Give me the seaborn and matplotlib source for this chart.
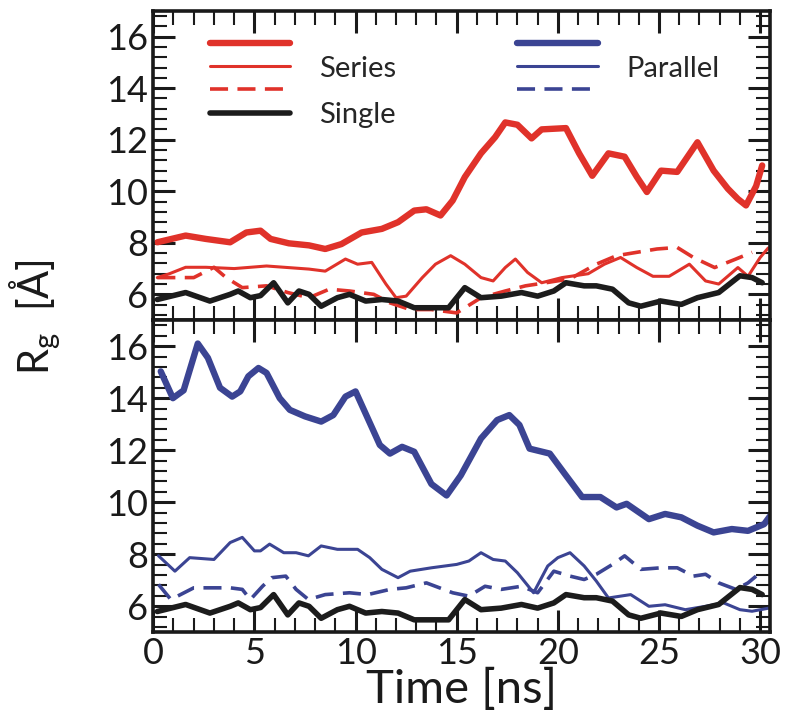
import matplotlib
matplotlib.use("Agg")
import matplotlib.pyplot as plt
from matplotlib.ticker import MultipleLocator
from matplotlib.lines import Line2D
import seaborn as sns
import pandas as pd

# ---------------- data ----------------
t_ser_thick = [0.2, 1.6, 2.6, 3.8, 4.6, 5.3, 5.8, 6.7, 7.7, 8.5, 9.3, 10.3, 11.3, 12.1, 12.9, 13.5,
               14.2, 14.8, 15.4, 16.2, 16.9, 17.4, 18.0, 18.7, 19.2, 20.4, 21.05, 21.7, 22.5, 23.3,
               23.9, 24.4, 25.1, 25.9, 26.9, 27.7, 28.4, 28.9, 29.3, 29.8, 30.1]
rg_ser_thick = [8.02, 8.28, 8.15, 8.02, 8.4, 8.47, 8.15, 7.98, 7.9, 7.76, 7.95, 8.4, 8.54, 8.8, 9.25, 9.3,
                9.06, 9.64, 10.55, 11.47, 12.1, 12.67, 12.58, 12.05, 12.4, 12.45, 11.47, 10.6, 11.47, 11.34,
                10.56, 9.97, 10.8, 10.75, 11.9, 10.8, 10.1, 9.7, 9.45, 10.2, 11.0]

t_ser_thin = [0.2, 0.8, 1.6, 2.6, 4.0, 5.6, 7.7, 8.5, 9.5, 10.1, 10.8, 11.5, 12.0, 12.5, 13.3, 13.95,
              14.7, 15.4, 16.2, 16.8, 17.4, 17.9, 18.5, 19.2, 20.2, 21.5, 22.3, 23.1, 23.9, 24.7, 25.5,
              26.5, 27.3, 27.95, 28.9, 29.4, 30.0, 30.4]
rg_ser_thin = [6.65, 6.8, 7.05, 7.05, 7.0, 7.1, 6.98, 6.9, 7.37, 7.17, 7.24, 6.4, 5.87, 5.93, 6.65, 7.17,
               7.5, 7.17, 6.65, 6.52, 7.04, 7.37, 6.85, 6.45, 6.65, 6.8, 7.17, 7.43, 7.04, 6.7, 6.7,
               7.17, 6.52, 6.4, 7.04, 6.7, 7.43, 7.8]

t_ser_dash = [0.2, 2.0, 3.0, 3.6, 4.4, 5.6, 6.65, 7.7, 8.7, 9.7, 10.9, 11.7, 12.7, 13.75, 15.0, 16.2,
              17.4, 18.4, 19.4, 20.6, 21.9, 22.9, 23.9, 24.9, 25.9, 26.7, 27.75, 28.8, 29.6]
rg_ser_dash = [6.65, 6.65, 7.05, 6.65, 6.26, 6.33, 6.07, 5.87, 6.2, 6.13, 6.0, 5.67, 5.41, 5.41, 5.28, 5.87,
               6.13, 6.33, 6.45, 6.6, 7.17, 7.5, 7.63, 7.76, 7.82, 7.43, 7.04, 7.37, 7.63]

t_single = [0.2, 1.6, 2.8, 3.8, 4.2, 4.8, 5.3, 5.95, 6.65, 7.2, 7.7, 8.3, 9.1, 9.7, 10.5, 11.3, 12.1,
            12.9, 13.75, 14.6, 15.4, 16.2, 17.2, 18.2, 19.0, 19.8, 20.4, 21.3, 21.9, 22.7, 23.5, 24.1,
            25.1, 26.1, 26.9, 27.95, 29.0, 29.6, 30.1]
rg_single = [5.8, 6.07, 5.74, 6.0, 6.13, 5.87, 5.95, 6.45, 5.67, 6.13, 6.0, 5.54, 5.87, 6.0, 5.74, 5.8, 5.74,
             5.48, 5.48, 5.48, 6.26, 5.87, 5.93, 6.07, 5.93, 6.13, 6.45, 6.33, 6.33, 6.2, 5.67, 5.54,
             5.74, 5.61, 5.87, 6.07, 6.72, 6.65, 6.45]

t_par_thick = [0.37, 0.97, 1.5, 2.2, 2.7, 3.3, 3.9, 4.3, 4.7, 5.2, 5.6, 6.25, 6.75, 7.5, 8.3, 8.9, 9.5,
               10.0, 10.6, 11.2, 11.7, 12.3, 12.9, 13.75, 14.5, 15.2, 16.2, 17.0, 17.6, 18.1, 18.6, 19.6,
               20.4, 21.2, 22.1, 22.9, 23.4, 24.5, 25.3, 26.1, 26.9, 27.7, 28.6, 29.4, 30.2, 30.5]
rg_par_thick = [15.03, 14.0, 14.3, 16.1, 15.55, 14.4, 14.06, 14.26, 14.84, 15.16, 14.97, 14.0, 13.55, 13.3,
                13.1, 13.35, 14.06, 14.26, 13.23, 12.2, 11.87, 12.13, 11.94, 10.7, 10.26, 11.03, 12.45,
                13.16, 13.35, 12.97, 12.06, 11.87, 11.03, 10.2, 10.2, 9.8, 9.94, 9.35, 9.55, 9.42, 9.1,
                8.84, 8.97, 8.9, 9.16, 9.48]

t_par_thin = [0.26, 1.07, 1.8, 3.0, 3.8, 4.4, 5.0, 5.3, 5.75, 6.45, 7.06, 7.67, 8.3, 9.1, 10.1, 10.7,
              11.3, 12.1, 12.7, 13.75, 15.0, 15.6, 16.2, 16.8, 17.4, 18.0, 18.8, 19.5, 20.0, 20.6, 21.3,
              21.9, 22.5, 23.6, 24.5, 25.3, 26.3, 27.3, 28.2, 29.0, 29.6, 30.5]
rg_par_thin = [7.94, 7.35, 7.87, 7.8, 8.45, 8.65, 8.13, 8.13, 8.39, 8.06, 8.06, 7.94, 8.32, 8.19, 8.19, 7.87,
               7.42, 7.1, 7.35, 7.48, 7.61, 7.74, 8.06, 7.8, 7.74, 7.29, 6.52, 7.55, 7.87, 8.06, 7.55,
               6.97, 6.32, 6.45, 6.0, 6.06, 5.87, 6.0, 6.13, 5.87, 5.81, 5.94]

t_par_dash = [0.26, 0.87, 2.0, 2.6, 3.8, 4.4, 4.8, 5.4, 5.85, 6.55, 7.06, 7.67, 8.5, 9.7, 10.6, 11.7,
              12.5, 13.5, 14.8, 15.6, 16.4, 17.2, 18.2, 19.0, 19.8, 20.6, 21.3, 21.9, 22.7, 23.3, 24.1,
              25.1, 25.9, 26.7, 27.3, 27.95, 28.8, 29.4, 29.8]
rg_par_dash = [6.84, 6.26, 6.71, 6.71, 6.71, 6.65, 6.26, 6.77, 7.1, 7.16, 6.65, 6.26, 6.45, 6.52, 6.45, 6.65,
               6.71, 6.9, 6.52, 6.39, 6.77, 6.65, 6.77, 6.52, 7.35, 7.16, 7.03, 7.23, 7.61, 7.94, 7.42,
               7.48, 7.48, 7.16, 7.23, 6.9, 6.65, 6.9, 7.16]

x_ticks = [0, 5, 10, 15, 20, 25, 30]
y_ticks = [6, 8, 10, 12, 14, 16]

RED = "#e0322a"
BLUE = "#3b4493"
BLACK = "#1c1c1c"
LW_THICK, LW_THIN, LW_DASH, LW_BLACK = 4.6, 2.2, 2.6, 4.0
DASH = (0, (5.0, 2.6))

# ---------------- style ----------------
sns.set_style("ticks")
plt.rcParams["font.family"] = ["Lato", "DejaVu Sans"]
plt.rcParams["mathtext.fontset"] = "custom"
plt.rcParams["mathtext.rm"] = "Lato"
plt.rcParams["mathtext.it"] = "Lato"

fig = plt.figure(figsize=(7.86, 7.21), dpi=100)
ax1 = fig.add_axes([0.195, 0.556, 0.785, 0.429])
ax2 = fig.add_axes([0.195, 0.123, 0.785, 0.433])


def draw(ax, t, v, color, lw, ls="-"):
    df = pd.DataFrame({"time": t, "rg": v})
    sns.lineplot(data=df, x="time", y="rg", ax=ax, color=color, linewidth=lw,
                 linestyle=ls, sort=False, estimator=None, solid_joinstyle="round",
                 solid_capstyle="round")


draw(ax1, t_ser_dash, rg_ser_dash, RED, LW_DASH, DASH)
draw(ax1, t_ser_thin, rg_ser_thin, RED, LW_THIN)
draw(ax1, t_single, rg_single, BLACK, LW_BLACK)
draw(ax1, t_ser_thick, rg_ser_thick, RED, LW_THICK)

draw(ax2, t_par_dash, rg_par_dash, BLUE, LW_DASH, DASH)
draw(ax2, t_par_thin, rg_par_thin, BLUE, LW_THIN)
draw(ax2, t_single, rg_single, BLACK, LW_BLACK)
draw(ax2, t_par_thick, rg_par_thick, BLUE, LW_THICK)

for ax in (ax1, ax2):
    ax.set_xlim(0, 30.5)
    ax.set_ylim(5.0, 17.0)
    ax.set_xticks(x_ticks)
    ax.set_yticks(y_ticks)
    ax.xaxis.set_minor_locator(MultipleLocator(1))
    ax.yaxis.set_minor_locator(MultipleLocator(0.4))
    ax.tick_params(which="both", direction="in", top=True, right=True, colors="#1a1a1a",
                   labelsize=26)
    ax.tick_params(which="major", length=16, width=2.2)
    ax.tick_params(which="minor", length=10, width=1.5)
    ax.set_xlabel("")
    ax.set_ylabel("")
    for s in ax.spines.values():
        s.set_linewidth(2.6)
        s.set_color("#1a1a1a")
    ax.set_facecolor("white")

ax1.tick_params(labelbottom=False)
ax2.set_xticklabels([str(v) for v in x_ticks])
ax2.set_xlabel("Time [ns]", fontsize=34, labelpad=-2, color="#1a1a1a")

fig.text(0.045, 0.56, r"R$_\mathregular{g}$  [Å]", rotation=90, fontsize=30,
         ha="center", va="center", color="#1a1a1a")

# ---------------- legends ----------------
h_thick_r = Line2D([], [], color=RED, lw=LW_THICK)
h_thin_r = Line2D([], [], color=RED, lw=LW_THIN)
h_dash_r = Line2D([], [], color=RED, lw=LW_DASH, linestyle=DASH)
h_black = Line2D([], [], color=BLACK, lw=LW_BLACK)
h_thick_b = Line2D([], [], color=BLUE, lw=LW_THICK)
h_thin_b = Line2D([], [], color=BLUE, lw=LW_THIN)
h_dash_b = Line2D([], [], color=BLUE, lw=LW_DASH, linestyle=DASH)

leg_kw = dict(frameon=False, fontsize=21, handlelength=2.75, handletextpad=1.0,
              labelspacing=-0.1, borderpad=0, borderaxespad=0, loc="upper left")
leg1 = ax1.legend([h_thick_r, h_thin_r, h_dash_r, h_black], ["", "Series", "", "Single"],
                  bbox_to_anchor=(0.092, 0.93), **leg_kw)
ax1.add_artist(leg1)
ax1.legend([h_thick_b, h_thin_b, h_dash_b], ["", "Parallel", ""],
           bbox_to_anchor=(0.59, 0.93), **leg_kw)

fig.savefig("out.png", dpi=100, facecolor="white")
